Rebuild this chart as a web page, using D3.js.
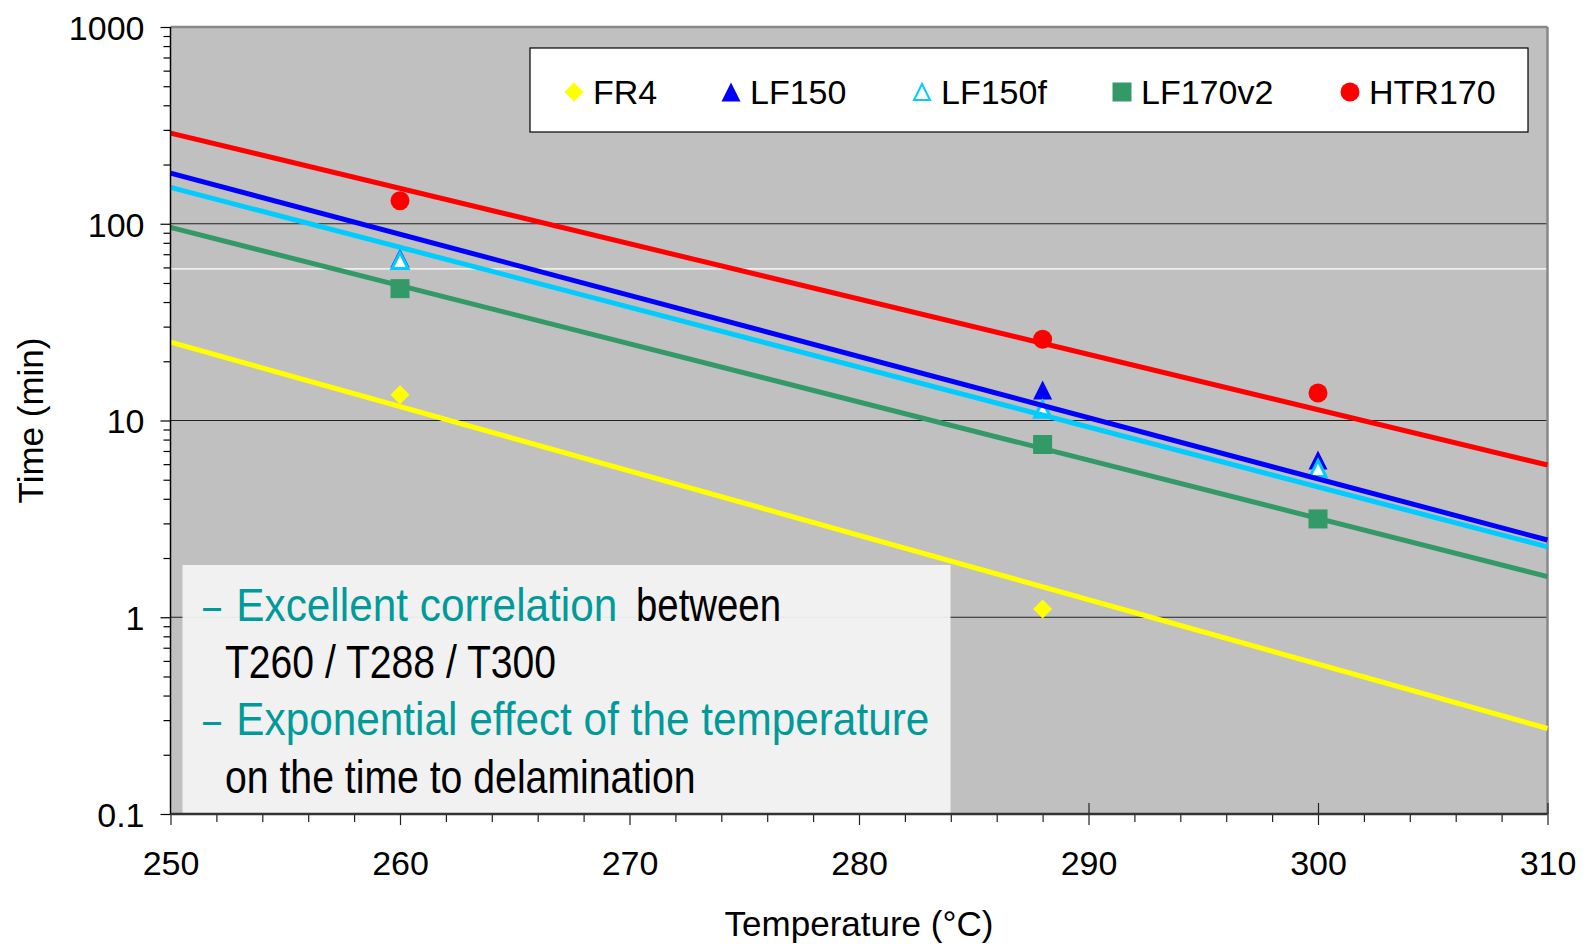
<!DOCTYPE html>
<html lang="en">
<head>
<meta charset="utf-8">
<title>Time to delamination vs temperature</title>
<script src="https://cdn.jsdelivr.net/npm/d3@7"></script>
<style>
body { margin: 0; background: #ffffff; }
svg { display: block; }
text { font-family: "Liberation Sans", Arial, sans-serif; }
</style>
</head>
<body>
<script>
var width = 1589, height = 944;

// measured points (min) at the three test temperatures
var temps   = [260, 288, 300];
var fr4     = [13.5, 1.10, null];
var lf150   = [67, 14.3, 6.3];
var lf150f  = [65, 11.4, 5.7];
var lf170v2 = [46.8, 7.55, 3.16];
var htr170  = [131, 25.9, 13.8];

// exponential trend lines, values read at both ends of the axis
var trendX       = [250, 310];
var fr4Trend     = [25.0, 0.272];
var lf150Trend   = [181, 2.47];
var lf150fTrend  = [153, 2.28];
var lf170v2Trend = [95.8, 1.61];
var htr170Trend  = [289, 5.94];

var xMajor = [250, 260, 270, 280, 290, 300, 310];
var yMajor = [0.1, 1, 10, 100, 1000];
var yLabels = ["0.1", "1", "10", "100", "1000"];
var whiteRule = [59];

var series = [
  {name: "FR4",     pts: fr4,     trend: fr4Trend,     color: "#ffff00", shape: "diamond"},
  {name: "LF150",   pts: lf150,   trend: lf150Trend,   color: "#0000ff", shape: "triangle"},
  {name: "LF150f",  pts: lf150f,  trend: lf150fTrend,  color: "#00ccff", shape: "triangleOpen"},
  {name: "LF170v2", pts: lf170v2, trend: lf170v2Trend, color: "#339966", shape: "square"},
  {name: "HTR170",  pts: htr170,  trend: htr170Trend,  color: "#ff0000", shape: "circle"}
];

var pLeft = 170.5, pRight = 1547.5, pTop = 27, pBottom = 814;

var x = d3.scaleLinear().domain([250, 310]).range([pLeft, pRight]);
var y = d3.scaleLog().domain([0.1, 1000]).range([pBottom, pTop]);

var svg = d3.select("body").append("svg").attr("width", width).attr("height", height);

// plot background
svg.append("rect").attr("x", pLeft).attr("y", pTop)
   .attr("width", pRight - pLeft).attr("height", pBottom - pTop).attr("fill", "#c0c0c0");

// grid lines
svg.append("g").selectAll("line").data([1, 10, 100]).join("line")
   .attr("x1", pLeft).attr("x2", pRight)
   .attr("y1", d => y(d)).attr("y2", d => y(d))
   .attr("stroke", "#222").attr("stroke-width", 1.2);
svg.append("g").selectAll("line").data(whiteRule).join("line")
   .attr("x1", pLeft).attr("x2", pRight)
   .attr("y1", d => y(d)).attr("y2", d => y(d))
   .attr("stroke", "#ffffff").attr("stroke-width", 1.2);

// borders
svg.append("line").attr("x1", pLeft).attr("x2", pRight).attr("y1", pTop).attr("y2", pTop)
   .attr("stroke", "#888").attr("stroke-width", 2.5);
svg.append("line").attr("x1", pRight).attr("x2", pRight).attr("y1", pTop).attr("y2", pBottom)
   .attr("stroke", "#888").attr("stroke-width", 2.5);

function markerPath(shape, s) {
  var h = s / 2;
  if (shape == "diamond") return "M0," + (-h) + "L" + h + ",0L0," + h + "L" + (-h) + ",0Z";
  if (shape == "square") return "M" + (-h) + "," + (-h) + "h" + s + "v" + s + "h" + (-s) + "Z";
  if (shape == "circle") return d3.symbol(d3.symbolCircle, Math.PI * h * h)();
  return "M0," + (-h) + "L" + h + "," + h + "L" + (-h) + "," + h + "Z";
}

function drawMarker(g, shape, color, cx, cy, s, sw) {
  var p = g.append("path").attr("d", markerPath(shape, s))
     .attr("transform", "translate(" + cx + "," + cy + ")");
  if (shape == "triangleOpen") {
    p.attr("fill", "#ffffff").attr("stroke", color).attr("stroke-width", sw);
  } else {
    p.attr("fill", color);
  }
}

// markers
var marks = svg.append("g");
series.forEach(function(s) {
  s.pts.forEach(function(v, i) {
    if (v == null) return;
    var size = s.shape == "triangleOpen" ? 16 : 19;
    drawMarker(marks, s.shape, s.color, x(temps[i]), y(v), size, 3);
  });
});

// trend lines
var line = d3.line().x(d => x(d[0])).y(d => y(d[1]));
series.forEach(function(s) {
  svg.append("path")
     .datum(trendX.map((t, i) => [t, s.trend[i]]))
     .attr("d", line).attr("fill", "none")
     .attr("stroke", s.color).attr("stroke-width", 5);
});

// text box
svg.append("rect").attr("x", 182.5).attr("y", 565)
   .attr("width", 768).attr("height", pBottom - 565)
   .attr("fill", "#f3f3f3").attr("fill-opacity", 0.94);

var teal = "#009a9a";
var notes = [
  {t: "\u2013", x: 203, w: 18, y: 620.5, c: teal},
  {t: "Excellent correlation", x: 236.3, w: 381, y: 620.5, c: teal},
  {t: "between", x: 636, w: 145, y: 620.5, c: "#000"},
  {t: "T260 / T288 / T300", x: 225, w: 331, y: 678.3, c: "#000"},
  {t: "\u2013", x: 203, w: 18, y: 735, c: teal},
  {t: "Exponential effect of the temperature", x: 236.3, w: 693, y: 735, c: teal},
  {t: "on the time to delamination", x: 225, w: 470.5, y: 792.7, c: "#000"}
];
svg.append("g").selectAll("text").data(notes).join("text")
   .attr("x", d => d.x).attr("y", d => d.y)
   .attr("textLength", d => d.w).attr("lengthAdjust", "spacingAndGlyphs")
   .attr("font-size", 47)
   .attr("fill", d => d.c).text(d => d.t);

// y axis
var yMinor = [];
[0.1, 1, 10, 100].forEach(function(d) {
  for (var k = 2; k <= 9; k++) yMinor.push(d * k);
});
var yAxisMinor = svg.append("g").attr("transform", "translate(" + pLeft + ",0)")
   .call(d3.axisLeft(y).tickValues(yMinor).tickSize(7).tickFormat(""));
var yAxis = svg.append("g").attr("transform", "translate(" + pLeft + ",0)")
   .call(d3.axisLeft(y).tickValues(yMajor).tickSize(10).tickPadding(16)
     .tickFormat((d, i) => yLabels[i]));
yAxis.selectAll("text").attr("font-size", 34).attr("font-family", "Liberation Sans, Arial, sans-serif")
   .attr("fill", "#000").attr("dy", "0.36em");
[yAxis, yAxisMinor].forEach(function(a) {
  a.select(".domain").remove();
  a.selectAll("line").attr("stroke", "#000").attr("stroke-width", 1.2);
});
svg.append("line").attr("x1", pLeft).attr("x2", pLeft).attr("y1", pTop).attr("y2", pBottom)
   .attr("stroke", "#000").attr("stroke-width", 1.5);

// x axis
var xMinor = d3.range(250, 311, 2).filter(d => d % 10 != 0);
var xAxisMinor = svg.append("g").attr("transform", "translate(0," + pBottom + ")")
   .call(d3.axisBottom(x).tickValues(xMinor).tickSize(8).tickFormat(""));
var xAxisIn = svg.append("g").attr("transform", "translate(0," + pBottom + ")")
   .call(d3.axisBottom(x).tickValues(xMajor.slice(4)).tickSize(-11).tickFormat(""));
var xAxis = svg.append("g").attr("transform", "translate(0," + pBottom + ")")
   .call(d3.axisBottom(x).tickValues(xMajor).tickSize(11).tickPadding(26).tickFormat(d3.format("d")));
xAxis.selectAll("text").attr("font-size", 34).attr("font-family", "Liberation Sans, Arial, sans-serif")
   .attr("fill", "#000");
[xAxis, xAxisMinor, xAxisIn].forEach(function(a) {
  a.select(".domain").remove();
  a.selectAll("line").attr("stroke", "#222").attr("stroke-width", 1.2);
});
svg.append("line").attr("x1", pLeft).attr("x2", pRight).attr("y1", pBottom).attr("y2", pBottom)
   .attr("stroke", "#333").attr("stroke-width", 2.5);

// axis titles
svg.append("text").attr("x", (pLeft + pRight) / 2).attr("y", 936)
   .attr("text-anchor", "middle").attr("font-size", 35).text("Temperature (\u00b0C)");
svg.append("text").attr("transform", "translate(30.5," + ((pTop + pBottom) / 2) + ") rotate(-90)")
   .attr("text-anchor", "middle").attr("dy", "0.36em").attr("font-size", 35).text("Time (min)");

// legend
var lg = svg.append("g");
lg.append("rect").attr("x", 530).attr("y", 48).attr("width", 998).attr("height", 84)
  .attr("fill", "#fff").attr("stroke", "#000").attr("stroke-width", 1.2);
var legendX = [574, 731, 922, 1122, 1350];
series.forEach(function(s, i) {
  drawMarker(lg, s.shape, s.color, legendX[i], 92, s.shape == "triangleOpen" ? 16 : 19, 2);
  lg.append("text").attr("x", legendX[i] + 19).attr("y", 92).attr("dy", "0.36em")
    .attr("font-size", 34).attr("fill", "#000").text(s.name);
});
</script>
</body>
</html>
